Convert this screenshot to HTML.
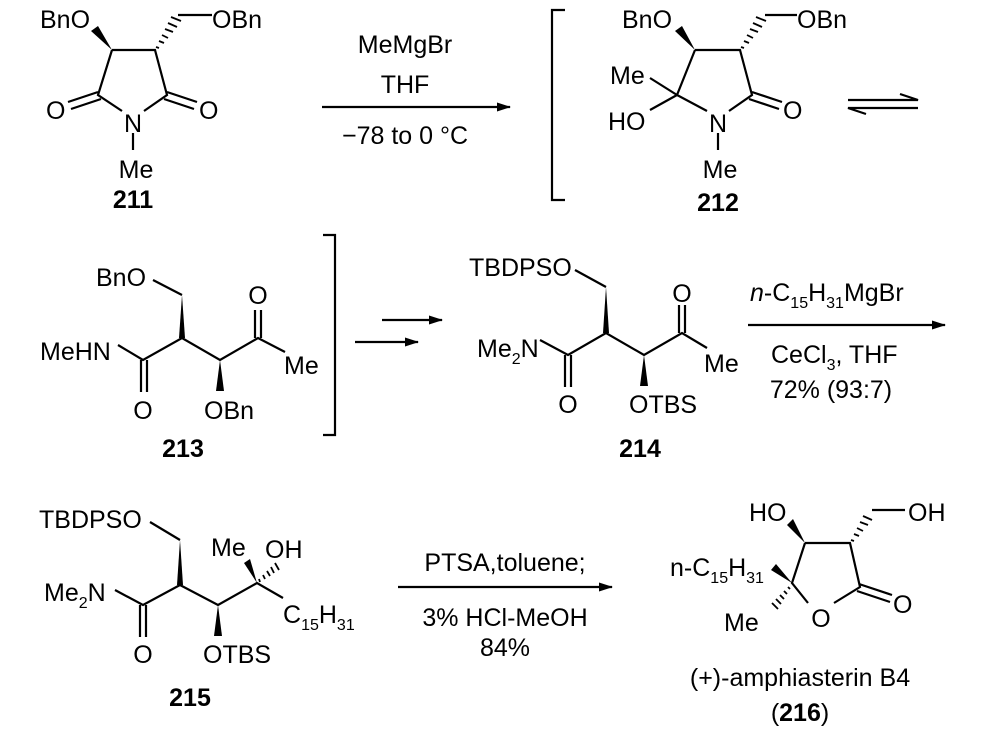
<!DOCTYPE html>
<html><head><meta charset="utf-8"><style>
html,body{margin:0;padding:0;background:#fff;}
svg{display:block;}
text{font-family:"Liberation Sans",Arial,sans-serif;font-size:25px;fill:#000;}
.b{font-weight:bold;}
.s{font-size:16px;}
</style></head><body>
<svg width="1000" height="730" viewBox="0 0 1000 730" xmlns="http://www.w3.org/2000/svg">
<defs>
<marker id="ah" markerWidth="14" markerHeight="9" refX="13" refY="4.5" orient="auto" markerUnits="userSpaceOnUse"><path d="M0,0 L14,4.5 L0,9 Z" fill="#000"/></marker>
</defs>
<g stroke="#000" stroke-width="2.2" fill="none" stroke-linecap="butt">
<!-- 211 -->
<path d="M112,50 L155,50 L167,95 L144,111 M122,111 L98,95 L112,50"/>
<path d="M98,92 L68,102 M101,99 L71,109"/>
<path d="M167,92 L197,102 M164,99 L194,109"/>
<path d="M133,133 L133,150"/>
<path d="M178,15 L212,15"/>
<!-- arrow1 -->
<path d="M322,107 L510,107" marker-end="url(#ah)"/>
<!-- bracket left -->
<path d="M565,10 L552,10 L552,200 L565,200"/>
<!-- 212 -->
<path d="M695,50 L740,50 L752,95 L729,111 M707,111 L677,95 L695,50"/>
<path d="M677,95 L650,78 M677,95 L650,110"/>
<path d="M752,92 L782,102 M749,99 L779,109"/>
<path d="M718,133 L718,150"/>
<path d="M765,15 L797,15"/>
<!-- equilibrium -->
<path d="M848,100 L918,100 L900,94"/>
<path d="M918,108 L848,108 L866,114"/>
<!-- 213 -->
<path d="M153,280 L182,295"/>
<path d="M118,345 L143,360 L182,338 L220,360 L258,338 L285,352"/>
<path d="M141,360 L141,392 M147,360 L147,392"/>
<path d="M255,338 L255,310 M261,338 L261,310"/>
<path d="M323,235 L335,235 L335,435 L323,435"/>
<path d="M382,320 L442,320" marker-end="url(#ah)"/>
<path d="M355,342 L418,342" marker-end="url(#ah)"/>
<!-- 214 -->
<path d="M575,270 L606,287"/>
<path d="M540,340 L568,355 L606,333 L644,355 L682,333 L707,348"/>
<path d="M565,355 L565,387 M571,355 L571,387"/>
<path d="M679,333 L679,305 M685,333 L685,305"/>
<path d="M748,325 L945,325" marker-end="url(#ah)"/>
<!-- 215 -->
<path d="M150,522 L180,540"/>
<path d="M115,590 L143,605 L180,585 L218,605 L257,583 L283,598"/>
<path d="M140,605 L140,637 M146,605 L146,637"/>
<path d="M398,587 L612,587" marker-end="url(#ah)"/>
<!-- 216 -->
<path d="M805,543 L850,543 L860,587 L834,603 M808,603 L792,583 L805,543"/>
<path d="M859,584 L892,595 M857,591 L890,602"/>
<path d="M872,510 L905,510"/>
</g>
<!-- wedges -->
<g fill="#000">
<polygon points="112,50 91,31 98,26"/>
<polygon points="695,50 675,31 682,26"/>
<polygon points="182,295 179,338 185,338"/>
<polygon points="220,360 216,391 224,391"/>
<polygon points="606,287 603,333 609,333"/>
<polygon points="644,355 640,386 648,386"/>
<polygon points="180,540 177,585 183,585"/>
<polygon points="218,605 214,636 222,636"/>
<polygon points="257,583 244,563 250,559"/>
<polygon points="805,543 787,525 793,519"/>
<polygon points="792,583 771,570 776,564"/>
</g>
<!-- hashes -->
<g stroke="#000" stroke-width="1.8">
<path d="M156,47 l3,1 M159,41 l5,2 M162,35 l6,3 M165,29 l8,3 M168,23 l9,4 M171,17 l10,4"/>
<path d="M741,47 l3,1 M744,41 l5,2 M747,35 l6,3 M750,29 l8,3 M753,23 l9,4 M756,17 l10,4"/>
<path d="M259,579 l1,3 M263,575 l2,4 M267,571 l3,5 M271,567 l3,6 M275,563 l4,7"/>
<path d="M851,540 l3,1 M854,534 l5,2 M857,528 l6,3 M860,522 l8,3 M863,516 l9,4"/>
<path d="M788,587 l2,2 M784,591 l3,3 M780,595 l4,4 M776,599 l5,5 M772,603 l6,6"/>
</g>
<!-- labels -->
<text x="40" y="28">BnO</text>
<text x="212" y="28">OBn</text>
<text x="46" y="119">O</text>
<text x="199" y="119">O</text>
<text x="133" y="132" text-anchor="middle">N</text>
<text x="136" y="178" text-anchor="middle">Me</text>
<text x="133" y="208" text-anchor="middle" class="b">211</text>

<text x="405" y="53" text-anchor="middle">MeMgBr</text>
<text x="405" y="93" text-anchor="middle">THF</text>
<text x="405" y="144" text-anchor="middle">−78 to 0 °C</text>

<text x="622" y="28">BnO</text>
<text x="797" y="28">OBn</text>
<text x="610" y="84">Me</text>
<text x="608" y="130">HO</text>
<text x="783" y="119">O</text>
<text x="718" y="132" text-anchor="middle">N</text>
<text x="720" y="178" text-anchor="middle">Me</text>
<text x="718" y="211" text-anchor="middle" class="b">212</text>

<text x="96" y="286">BnO</text>
<text x="40" y="360">MeHN</text>
<text x="143" y="419" text-anchor="middle">O</text>
<text x="204" y="419">OBn</text>
<text x="258" y="304" text-anchor="middle">O</text>
<text x="284" y="374">Me</text>
<text x="183" y="457" text-anchor="middle" class="b">213</text>

<text x="469" y="276">TBDPSO</text>
<text x="477" y="357">Me<tspan class="s" dy="7">2</tspan><tspan dy="-7">N</tspan></text>
<text x="568" y="413" text-anchor="middle">O</text>
<text x="629" y="413">OTBS</text>
<text x="682" y="302" text-anchor="middle">O</text>
<text x="704" y="372">Me</text>
<text x="640" y="457" text-anchor="middle" class="b">214</text>

<text x="750" y="301"><tspan font-style="italic">n</tspan>-C<tspan class="s" dy="7">15</tspan><tspan dy="-7">H</tspan><tspan class="s" dy="7">31</tspan><tspan dy="-7">MgBr</tspan></text>
<text x="771" y="363">CeCl<tspan class="s" dy="7">3</tspan><tspan dy="-7">, THF</tspan></text>
<text x="831" y="398" text-anchor="middle">72% (93:7)</text>

<text x="39" y="528">TBDPSO</text>
<text x="44" y="601">Me<tspan class="s" dy="7">2</tspan><tspan dy="-7">N</tspan></text>
<text x="143" y="663" text-anchor="middle">O</text>
<text x="203" y="663">OTBS</text>
<text x="211" y="556">Me</text>
<text x="265" y="558">OH</text>
<text x="283" y="623">C<tspan class="s" dy="7">15</tspan><tspan dy="-7">H</tspan><tspan class="s" dy="7">31</tspan></text>
<text x="190" y="706" text-anchor="middle" class="b">215</text>

<text x="505" y="571" text-anchor="middle">PTSA,toluene;</text>
<text x="505" y="626" text-anchor="middle">3% HCl-MeOH</text>
<text x="505" y="656" text-anchor="middle">84%</text>

<text x="749" y="521">HO</text>
<text x="908" y="521">OH</text>
<text x="670" y="576">n-C<tspan class="s" dy="7">15</tspan><tspan dy="-7">H</tspan><tspan class="s" dy="7">31</tspan></text>
<text x="724" y="631">Me</text>
<text x="821" y="627" text-anchor="middle">O</text>
<text x="893" y="613">O</text>
<text x="800" y="686" text-anchor="middle">(+)-amphiasterin B4</text>
<text x="800" y="721" text-anchor="middle">(<tspan class="b">216</tspan>)</text>
</svg>
</body></html>
